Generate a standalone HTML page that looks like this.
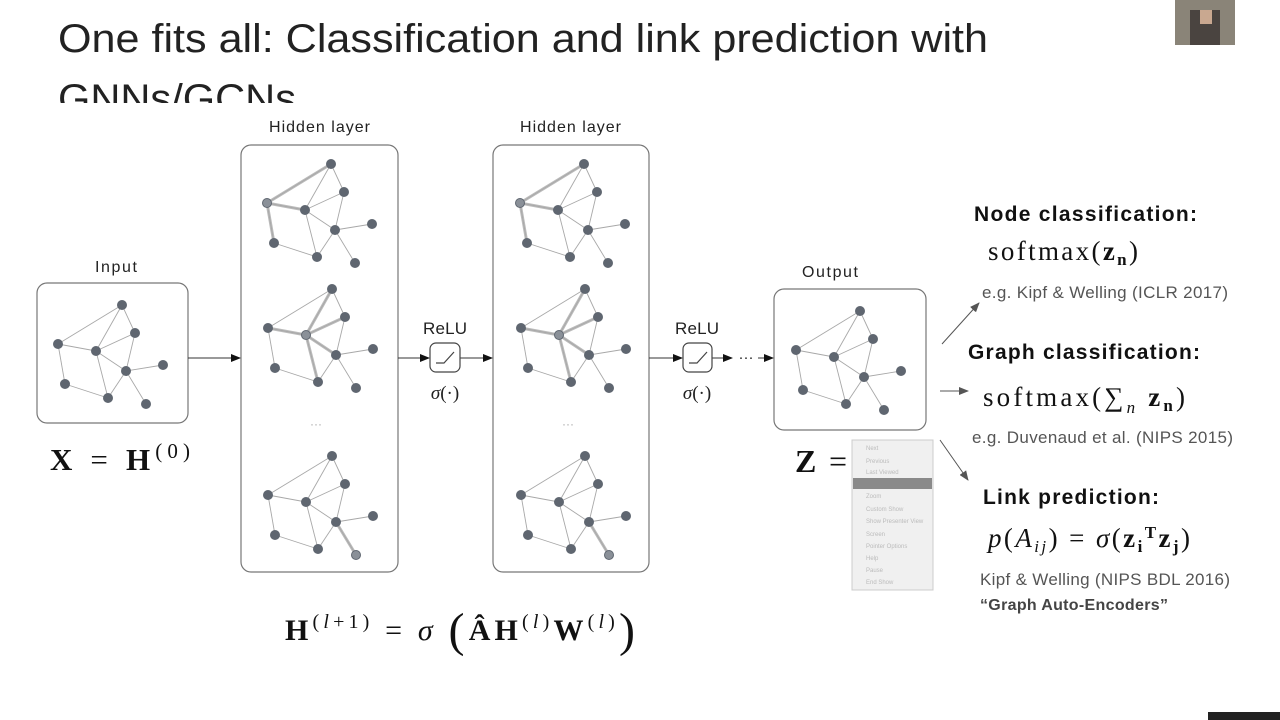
<!DOCTYPE html>
<html><head><meta charset="utf-8"><style>
html,body{margin:0;padding:0;background:#fff;width:1280px;height:720px;overflow:hidden}
svg{display:block}
.t{font-family:"Liberation Sans",sans-serif}
.m{font-family:"Liberation Serif",serif}
</style></head><body>
<svg width="1280" height="720" viewBox="0 0 1280 720" xmlns="http://www.w3.org/2000/svg">
<defs>
<g id="gr">
 <g stroke="#a8a8a8" stroke-width="0.9" fill="none">
  <line x1="64" y1="-39" x2="0" y2="0"/><line x1="64" y1="-39" x2="38" y2="7"/><line x1="64" y1="-39" x2="77" y2="-11"/>
  <line x1="77" y1="-11" x2="38" y2="7"/><line x1="77" y1="-11" x2="68" y2="27"/><line x1="0" y1="0" x2="38" y2="7"/>
  <line x1="0" y1="0" x2="7" y2="40"/><line x1="7" y1="40" x2="50" y2="54"/><line x1="38" y1="7" x2="68" y2="27"/>
  <line x1="38" y1="7" x2="50" y2="54"/><line x1="68" y1="27" x2="105" y2="21"/><line x1="68" y1="27" x2="50" y2="54"/>
  <line x1="68" y1="27" x2="88" y2="60"/>
 </g>
 <g fill="#5f6670">
  <circle cx="64" cy="-39" r="5"/><circle cx="77" cy="-11" r="5"/><circle cx="0" cy="0" r="5"/>
  <circle cx="38" cy="7" r="5"/><circle cx="68" cy="27" r="5"/><circle cx="105" cy="21" r="5"/>
  <circle cx="7" cy="40" r="5"/><circle cx="50" cy="54" r="5"/><circle cx="88" cy="60" r="5"/>
 </g>
</g>
<g id="h1"><g stroke="#bbb" stroke-width="3"><line x1="0" y1="0" x2="64" y2="-39"/><line x1="0" y1="0" x2="38" y2="7"/><line x1="0" y1="0" x2="7" y2="40"/></g><use href="#gr"/><circle cx="0" cy="0" r="4" fill="#8a9098"/></g>
<g id="h2"><g stroke="#bbb" stroke-width="3"><line x1="38" y1="7" x2="64" y2="-39"/><line x1="38" y1="7" x2="77" y2="-11"/><line x1="38" y1="7" x2="0" y2="0"/><line x1="38" y1="7" x2="68" y2="27"/><line x1="38" y1="7" x2="50" y2="54"/></g><use href="#gr"/><circle cx="38" cy="7" r="4" fill="#8a9098"/></g>
<g id="h3"><g stroke="#bbb" stroke-width="3"><line x1="68" y1="27" x2="88" y2="60"/></g><use href="#gr"/><circle cx="88" cy="60" r="4" fill="#8a9098"/></g>
<marker id="ar" markerWidth="10" markerHeight="8" refX="9" refY="4" orient="auto" markerUnits="userSpaceOnUse"><path d="M0,0 L10,4 L0,8 z" fill="#111"/></marker>
<marker id="ag" markerWidth="10" markerHeight="8" refX="9" refY="4" orient="auto" markerUnits="userSpaceOnUse"><path d="M0,0 L10,4 L0,8 z" fill="#555"/></marker>
</defs>

<text class="t" x="58" y="52" font-size="40" fill="#222" textLength="930" lengthAdjust="spacingAndGlyphs">One fits all: Classification and link prediction with</text>
<clipPath id="cl"><rect x="0" y="0" width="1280" height="103"/></clipPath>
<text class="t" x="58" y="112" font-size="40" fill="#222" clip-path="url(#cl)" textLength="238" lengthAdjust="spacingAndGlyphs">GNNs/GCNs</text>
<rect x="1175" y="0" width="60" height="45" fill="#8a8478"/>
<rect x="1190" y="10" width="30" height="35" fill="#4a4440"/>
<rect x="1200" y="10" width="12" height="14" fill="#c9a890"/>

<text class="t" x="95" y="272" font-size="16" fill="#222" textLength="42">Input</text>
<rect x="37" y="283" width="151" height="140" rx="10" fill="none" stroke="#777" stroke-width="1.2"/>
<use href="#gr" transform="translate(58,344)"/>

<text class="t" x="269" y="132" font-size="16" fill="#222" textLength="101">Hidden layer</text>
<rect x="241" y="145" width="157" height="427" rx="10" fill="none" stroke="#777" stroke-width="1.2"/>
<use href="#h1" transform="translate(267,203)"/>
<use href="#h2" transform="translate(268,328)"/>
<use href="#h3" transform="translate(268,495)"/>
<text class="t" x="316" y="428" font-size="12" text-anchor="middle" fill="#aaa">···</text>

<text class="t" x="520" y="132" font-size="16" fill="#222" textLength="101">Hidden layer</text>
<rect x="493" y="145" width="156" height="427" rx="10" fill="none" stroke="#777" stroke-width="1.2"/>
<use href="#h1" transform="translate(520,203)"/>
<use href="#h2" transform="translate(521,328)"/>
<use href="#h3" transform="translate(521,495)"/>
<text class="t" x="568" y="428" font-size="12" text-anchor="middle" fill="#aaa">···</text>

<text class="t" x="802" y="277" font-size="16" fill="#222" textLength="56">Output</text>
<rect x="774" y="289" width="152" height="141" rx="10" fill="none" stroke="#777" stroke-width="1.2"/>
<use href="#gr" transform="translate(796,350)"/>

<g stroke="#333" stroke-width="1" fill="none">
<line x1="188" y1="358" x2="240" y2="358" marker-end="url(#ar)"/>
<line x1="398" y1="358" x2="429" y2="358" marker-end="url(#ar)"/>
<line x1="460" y1="358" x2="492" y2="358" marker-end="url(#ar)"/>
<line x1="649" y1="358" x2="682" y2="358" marker-end="url(#ar)"/>
<line x1="712" y1="358" x2="732" y2="358" marker-end="url(#ar)"/>
<line x1="758" y1="358" x2="773" y2="358" marker-end="url(#ar)"/>
</g>
<text class="t" x="746" y="362" font-size="15" text-anchor="middle" fill="#222">···</text>
<g fill="none" stroke="#444" stroke-width="1.2">
<rect x="430" y="343" width="30" height="29" rx="6"/><path d="M436,363 H444 L454,352"/>
<rect x="683" y="343" width="29" height="29" rx="6"/><path d="M689,363 H697 L707,352"/>
</g>
<text class="t" x="423" y="334" font-size="17" fill="#222" textLength="44">ReLU</text>
<text class="t" x="675" y="334" font-size="17" fill="#222" textLength="44">ReLU</text>
<text class="m" x="445" y="399" font-size="19" text-anchor="middle" fill="#222"><tspan font-style="italic">σ</tspan>(·)</text>
<text class="m" x="697" y="399" font-size="19" text-anchor="middle" fill="#222"><tspan font-style="italic">σ</tspan>(·)</text>

<text class="m" x="50" y="470" font-size="31" fill="#111" textLength="140"><tspan font-weight="bold">X</tspan> = <tspan font-weight="bold">H</tspan><tspan font-size="21" dy="-12">(0)</tspan></text>
<text class="m" x="795" y="472" font-size="32" fill="#111" textLength="52"><tspan font-weight="bold">Z</tspan> =</text>
<text class="m" x="285" y="640" font-size="30" fill="#111" textLength="350"><tspan font-weight="bold">H</tspan><tspan font-size="20" dy="-12">(<tspan font-style="italic">l</tspan>+1)</tspan><tspan dy="12"> = </tspan><tspan font-style="italic">σ</tspan> <tspan font-size="48" dy="6">(</tspan><tspan dy="-6" font-weight="bold">ÂH</tspan><tspan font-size="20" dy="-12">(<tspan font-style="italic">l</tspan>)</tspan><tspan dy="12" font-weight="bold">W</tspan><tspan font-size="20" dy="-12">(<tspan font-style="italic">l</tspan>)</tspan><tspan font-size="48" dy="18">)</tspan></text>

<rect x="852" y="440" width="81" height="150" fill="#f0f0f0" stroke="#ccc"/>
<rect x="853" y="478" width="79" height="11" fill="#8a8a8a"/>
<g class="t" font-size="6" fill="#bbb">
<text x="866" y="450">Next</text><text x="866" y="463">Previous</text><text x="866" y="474">Last Viewed</text>
<text x="866" y="498">Zoom</text><text x="866" y="511">Custom Show</text><text x="866" y="523">Show Presenter View</text>
<text x="866" y="536">Screen</text><text x="866" y="548">Pointer Options</text><text x="866" y="560">Help</text><text x="866" y="572">Pause</text><text x="866" y="584">End Show</text>
</g>

<g stroke="#555" stroke-width="1" fill="none">
<line x1="942" y1="344" x2="979" y2="303" marker-end="url(#ag)"/>
<line x1="940" y1="391" x2="968" y2="391" marker-end="url(#ag)"/>
<line x1="940" y1="440" x2="968" y2="480" marker-end="url(#ag)"/>
</g>
<text class="t" x="974" y="221" font-size="21" font-weight="bold" fill="#111" textLength="223">Node classification:</text>
<text class="m" x="988" y="260" font-size="27" fill="#111" textLength="150">softmax(<tspan font-weight="bold">z</tspan><tspan font-weight="bold" font-size="17" dy="5">n</tspan><tspan dy="-5">)</tspan></text>
<text class="t" x="982" y="298" font-size="17" fill="#555" textLength="246">e.g. Kipf &amp; Welling (ICLR 2017)</text>
<text class="t" x="968" y="359" font-size="21" font-weight="bold" fill="#111" textLength="232">Graph classification:</text>
<text class="m" x="983" y="406" font-size="27" fill="#111" textLength="202">softmax(∑<tspan font-size="17" font-style="italic" dy="7">n</tspan><tspan dy="-7" font-weight="bold"> z</tspan><tspan font-weight="bold" font-size="17" dy="5">n</tspan><tspan dy="-5">)</tspan></text>
<text class="t" x="972" y="443" font-size="17" fill="#555" textLength="261">e.g. Duvenaud et al. (NIPS 2015)</text>
<text class="t" x="983" y="504" font-size="21" font-weight="bold" fill="#111" textLength="176">Link prediction:</text>
<text class="m" x="988" y="547" font-size="27" fill="#111" textLength="202"><tspan font-style="italic">p</tspan>(<tspan font-style="italic">A</tspan><tspan font-style="italic" font-size="17" dy="5">ij</tspan><tspan dy="-5">) = </tspan><tspan font-style="italic">σ</tspan>(<tspan font-weight="bold">z</tspan><tspan font-weight="bold" font-size="17" dy="5">i</tspan><tspan font-weight="bold" font-size="17" dy="-14">T</tspan><tspan dy="9" font-weight="bold">z</tspan><tspan font-weight="bold" font-size="17" dy="5">j</tspan><tspan dy="-5">)</tspan></text>
<text class="t" x="980" y="585" font-size="17" fill="#555" textLength="250">Kipf &amp; Welling (NIPS BDL 2016)</text>
<text class="t" x="980" y="610" font-size="16" font-weight="bold" fill="#444" textLength="188">“Graph Auto-Encoders”</text>

<rect x="1208" y="712" width="72" height="8" fill="#222"/>
</svg>
</body></html>
